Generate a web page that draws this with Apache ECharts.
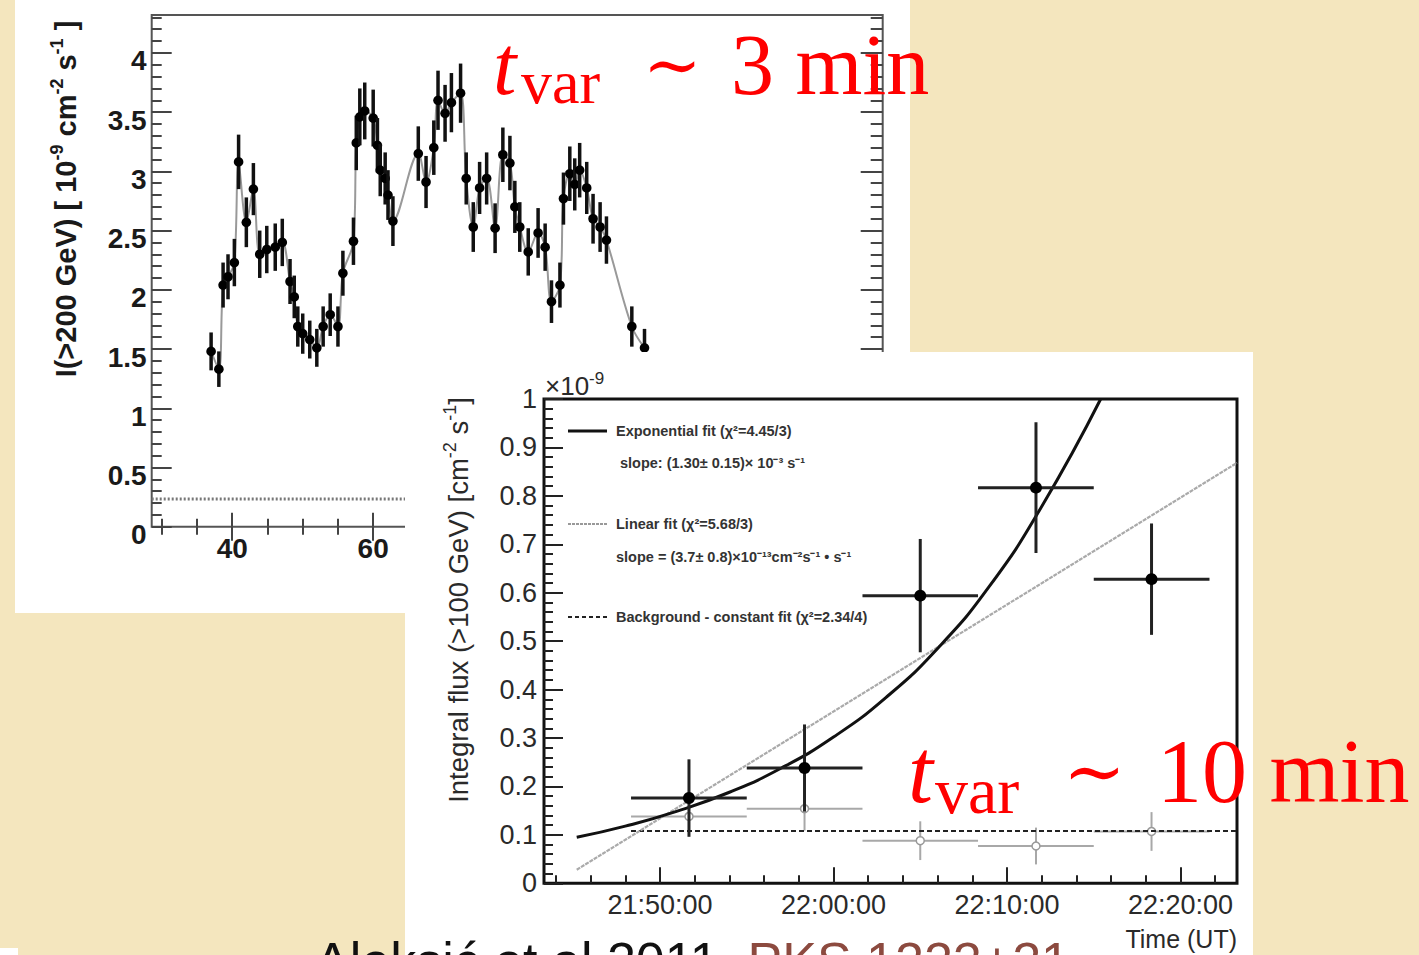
<!DOCTYPE html>
<html>
<head>
<meta charset="utf-8">
<script src="https://cdn.jsdelivr.net/npm/echarts@6/dist/echarts.min.js"></script>
<style>
html,body{margin:0;padding:0;background:#f4e6be;}
#c{width:1419px;height:955px;}
</style>
</head>
<body>
<div id="c"></div>
<script>
// ---------- Upper panel: light curve, I(>200 GeV) [1e-9 cm^-2 s^-1] vs minutes ----------
const hessTime = [37.0,38.1,38.7,39.4,40.3,40.9,42.0,43.0,43.9,44.9,
  46.1,47.1,48.2,48.8,49.3,50.0,51.0,52.0,52.9,53.9,
  55.0,55.7,57.2,57.6,58.1,58.8,60.0,60.6,61.0,61.7,
  62.1,62.8,66.4,67.5,68.6,69.2,70.2,71.1,72.4,73.2,
  74.2,75.1,76.1,77.3,78.4,79.4,80.1,80.8,82.0,83.4,
  84.4,85.3,86.5,87.0,87.9,88.6,89.3,90.3,91.2,92.2,
  93.1,96.7,98.5];
const hessFlux = [1.48,1.33,2.04,2.11,2.23,3.08,2.57,2.85,2.30,2.34,
  2.36,2.40,2.07,1.94,1.69,1.63,1.58,1.51,1.69,1.79,
  1.69,2.14,2.41,3.24,3.46,3.51,3.45,3.22,3.01,2.94,
  2.80,2.58,3.15,2.91,3.20,3.60,3.49,3.58,3.66,2.94,
  2.53,2.86,2.94,2.52,3.14,3.07,2.70,2.53,2.32,2.48,
  2.36,1.90,2.04,2.77,2.98,2.89,3.01,2.86,2.60,2.53,
  2.42,1.69,1.51];
const hessErr = [0.16,0.15,0.19,0.19,0.20,0.23,0.21,0.22,0.20,0.20,
  0.20,0.20,0.19,0.18,0.17,0.17,0.16,0.16,0.17,0.18,
  0.17,0.19,0.20,0.23,0.24,0.24,0.24,0.23,0.22,0.22,
  0.21,0.21,0.23,0.22,0.23,0.25,0.24,0.25,0.25,0.22,
  0.21,0.22,0.22,0.21,0.23,0.23,0.22,0.21,0.20,0.21,
  0.20,0.18,0.19,0.22,0.23,0.22,0.23,0.22,0.21,0.21,
  0.20,0.17,0.16];
const hessBackground = 0.234;
const topXMajor = [40, 60, 80, 100, 120];
const topXLabelValues = [40, 60];   // the other labels lie under the lower panel
const topXMinor = [30, 35, 45, 50, 55, 65, 70, 75, 85, 90, 95, 105, 110, 115, 125, 130];
const topYMajor = [0, 0.5, 1, 1.5, 2, 2.5, 3, 3.5, 4];
const topYMinor = [0.1,0.2,0.3,0.4,0.6,0.7,0.8,0.9,1.1,1.2,1.3,1.4,1.6,1.7,1.8,1.9,
  2.1,2.2,2.3,2.4,2.6,2.7,2.8,2.9,3.1,3.2,3.3,3.4,3.6,3.7,3.8,3.9,4.1,4.2,4.3];

// ---------- Lower panel: MAGIC integral flux (>100 GeV) [1e-9 cm^-2 s^-1] vs time (min after 21:00 UT) ----------
const magicCenter = [51.67, 58.33, 65.0, 71.67, 78.33];
const magicStart  = [48.33, 55.0, 61.67, 68.33, 75.0];
const magicEnd    = [55.0, 61.67, 68.33, 75.0, 81.67];
const magicFlux   = [0.176, 0.238, 0.594, 0.817, 0.628];
const magicErr    = [0.080, 0.090, 0.117, 0.135, 0.115];
const bgFlux      = [0.138, 0.154, 0.088, 0.077, 0.107];
const bgErr       = [0.040, 0.045, 0.040, 0.038, 0.040];
const bgConst     = 0.108;
const expFitTime  = [45.2, 48, 51, 54, 57, 60, 63, 66, 69, 72, 75.4];
const expFitFlux  = [0.095, 0.118, 0.149, 0.188, 0.238, 0.302, 0.383, 0.485, 0.614, 0.778, 1.0];
const linFitTime  = [45.2, 83.25];
const linFitFlux  = [0.028, 0.868];
const botXMajor = [50, 60, 70, 80];
const botXLabels = ['21:50:00', '22:00:00', '22:10:00', '22:20:00'];
const botXMinor = [44, 46, 48, 52, 54, 56, 58, 62, 64, 66, 68, 72, 74, 76, 78, 82];
const botYMajor = [0, 0.1, 0.2, 0.3, 0.4, 0.5, 0.6, 0.7, 0.8, 0.9, 1];
const botYMinor = [0.02,0.04,0.06,0.08,0.12,0.14,0.16,0.18,0.22,0.24,0.26,0.28,
  0.32,0.34,0.36,0.38,0.42,0.44,0.46,0.48,0.52,0.54,0.56,0.58,0.62,0.64,0.66,0.68,
  0.72,0.74,0.76,0.78,0.82,0.84,0.86,0.88,0.92,0.94,0.96,0.98];

const SANS = "'Liberation Sans', Arial, Helvetica, sans-serif";
const SERIF = "'Liberation Serif', 'DejaVu Serif', serif";

const hessData = hessTime.map((t, i) => [t, hessFlux[i], hessErr[i]]);
const magicData = magicCenter.map((t, i) => [t, magicFlux[i], magicErr[i], magicStart[i], magicEnd[i]]);
const bgData = magicCenter.map((t, i) => [t, bgFlux[i], bgErr[i], magicStart[i], magicEnd[i]]);

function tickAxis(opt) {
  return Object.assign({
    type: 'value', axisLine: {show: false}, splitLine: {show: false},
    axisLabel: {show: false}
  }, opt);
}

const topXRange = {min: 28.57, max: 132.3};
const topYRange = {min: 0, max: 4.32};
const botXRange = {min: 43.314, max: 83.256};
const botYRange = {min: 0, max: 1};

const topTickStyle = {color: '#444', width: 2};
const botTickStyle = {color: '#222', width: 2};

const option = {
  animation: false,
  backgroundColor: '#f4e6be',
  grid: [
    {left: 151.7, top: 15, width: 731, height: 511.7, show: true, borderColor: '#555', borderWidth: 2, backgroundColor: 'transparent', z: 1},
    {left: 544, top: 399, width: 693, height: 484.3, show: true, borderColor: '#111', borderWidth: 3, backgroundColor: 'transparent', z: 6}
  ],
  xAxis: [
    tickAxis(Object.assign({gridIndex: 0, position: 'bottom', z: 1,
      axisTick: {inside: true, length: 14, lineStyle: topTickStyle, customValues: topXMajor},
      axisLabel: {show: true, customValues: topXLabelValues, margin: 8, fontSize: 28, fontWeight: 'bold', fontFamily: SANS, color: '#1a1a1a'}}, topXRange)),
    tickAxis(Object.assign({gridIndex: 0, position: 'bottom', z: 1,
      axisTick: {inside: true, length: 8, lineStyle: topTickStyle, customValues: topXMinor}}, topXRange)),
    tickAxis(Object.assign({gridIndex: 0, position: 'top', z: 1,
      axisTick: {inside: true, length: 14, lineStyle: topTickStyle, customValues: topXMajor}}, topXRange)),
    tickAxis(Object.assign({gridIndex: 0, position: 'top', z: 1,
      axisTick: {inside: true, length: 8, lineStyle: topTickStyle, customValues: topXMinor}}, topXRange)),
    tickAxis(Object.assign({gridIndex: 1, position: 'bottom', z: 6,
      axisTick: {inside: true, length: 16, lineStyle: botTickStyle, customValues: botXMajor},
      axisLabel: {show: true, customValues: botXMajor, margin: 8, fontSize: 27, fontFamily: SANS, color: '#2a2a2a',
        formatter: v => botXLabels[botXMajor.indexOf(v)]}}, botXRange)),
    tickAxis(Object.assign({gridIndex: 1, position: 'bottom', z: 6,
      axisTick: {inside: true, length: 8, lineStyle: botTickStyle, customValues: botXMinor}}, botXRange))
  ],
  yAxis: [
    tickAxis(Object.assign({gridIndex: 0, position: 'left', z: 1,
      axisTick: {inside: true, length: 20, lineStyle: topTickStyle, customValues: topYMajor},
      axisLabel: {show: true, customValues: topYMajor, margin: 5, verticalAlign: 'top', lineHeight: 16, fontSize: 28, fontWeight: 'bold', fontFamily: SANS, color: '#1a1a1a'}}, topYRange)),
    tickAxis(Object.assign({gridIndex: 0, position: 'left', z: 1,
      axisTick: {inside: true, length: 10, lineStyle: topTickStyle, customValues: topYMinor}}, topYRange)),
    tickAxis(Object.assign({gridIndex: 0, position: 'right', z: 1,
      axisTick: {inside: true, length: 22, lineStyle: topTickStyle, customValues: topYMajor}}, topYRange)),
    tickAxis(Object.assign({gridIndex: 0, position: 'right', z: 1,
      axisTick: {inside: true, length: 12, lineStyle: topTickStyle, customValues: topYMinor}}, topYRange)),
    tickAxis(Object.assign({gridIndex: 1, position: 'left', z: 6,
      axisTick: {inside: true, length: 19, lineStyle: botTickStyle, customValues: botYMajor},
      axisLabel: {show: true, customValues: botYMajor, margin: 7, fontSize: 27, fontFamily: SANS, color: '#2a2a2a'}}, botYRange)),
    tickAxis(Object.assign({gridIndex: 1, position: 'left', z: 6,
      axisTick: {inside: true, length: 9, lineStyle: botTickStyle, customValues: botYMinor}}, botYRange))
  ],
  series: [
    // upper panel
    {type: 'line', xAxisIndex: 0, yAxisIndex: 0, z: 2, data: hessData.map(d => [d[0], d[1]]),
      smooth: 0.35, showSymbol: false, lineStyle: {color: '#999', width: 2}, silent: true},
    {type: 'line', xAxisIndex: 0, yAxisIndex: 0, z: 2, data: [[topXRange.min, hessBackground], [topXRange.max, hessBackground]],
      showSymbol: false, lineStyle: {color: '#777', width: 3, type: [2, 2]}, silent: true},
    {type: 'custom', xAxisIndex: 0, yAxisIndex: 0, z: 3, data: hessData,
      renderItem: function (params, api) {
        const x = api.value(0), y = api.value(1), e = api.value(2);
        const c = api.coord([x, y]), hi = api.coord([x, y + e]), lo = api.coord([x, y - e]);
        return {type: 'group', children: [
          {type: 'line', shape: {x1: c[0], y1: hi[1], x2: c[0], y2: lo[1]}, style: {stroke: '#111', lineWidth: 3.5}},
          {type: 'circle', shape: {cx: c[0], cy: c[1], r: 4.8}, style: {fill: '#000'}}
        ]};
      }},
    // lower panel
    {type: 'line', xAxisIndex: 4, yAxisIndex: 4, z: 7, data: [[magicStart[0], bgConst], [botXRange.max, bgConst]],
      showSymbol: false, lineStyle: {color: '#222', width: 2, type: [5, 3]}, silent: true},
    {type: 'custom', xAxisIndex: 4, yAxisIndex: 4, z: 7, data: bgData,
      renderItem: function (params, api) {
        const x = api.value(0), y = api.value(1), e = api.value(2), x0 = api.value(3), x1 = api.value(4);
        const c = api.coord([x, y]), hi = api.coord([x, y + e]), lo = api.coord([x, y - e]);
        const l = api.coord([x0, y]), r = api.coord([x1, y]);
        return {type: 'group', children: [
          {type: 'line', shape: {x1: c[0], y1: hi[1], x2: c[0], y2: lo[1]}, style: {stroke: '#a8a8a8', lineWidth: 2}},
          {type: 'line', shape: {x1: l[0], y1: c[1], x2: r[0], y2: c[1]}, style: {stroke: '#a8a8a8', lineWidth: 2}},
          {type: 'circle', shape: {cx: c[0], cy: c[1], r: 4}, style: {fill: '#fff', stroke: '#999', lineWidth: 1.5}}
        ]};
      }},
    {type: 'line', xAxisIndex: 4, yAxisIndex: 4, z: 8, data: linFitTime.map((t, i) => [t, linFitFlux[i]]),
      showSymbol: false, lineStyle: {color: '#aaa', width: 2.2, type: [4, 1]}, silent: true},
    {type: 'line', xAxisIndex: 4, yAxisIndex: 4, z: 8, data: expFitTime.map((t, i) => [t, expFitFlux[i]]),
      smooth: true, showSymbol: false, lineStyle: {color: '#111', width: 3}, silent: true},
    {type: 'custom', xAxisIndex: 4, yAxisIndex: 4, z: 9, data: magicData,
      renderItem: function (params, api) {
        const x = api.value(0), y = api.value(1), e = api.value(2), x0 = api.value(3), x1 = api.value(4);
        const c = api.coord([x, y]), hi = api.coord([x, y + e]), lo = api.coord([x, y - e]);
        const l = api.coord([x0, y]), r = api.coord([x1, y]);
        return {type: 'group', children: [
          {type: 'line', shape: {x1: c[0], y1: hi[1], x2: c[0], y2: lo[1]}, style: {stroke: '#222', lineWidth: 3}},
          {type: 'line', shape: {x1: l[0], y1: c[1], x2: r[0], y2: c[1]}, style: {stroke: '#222', lineWidth: 3}},
          {type: 'circle', shape: {cx: c[0], cy: c[1], r: 6}, style: {fill: '#000'}}
        ]};
      }}
  ],
  graphic: [
    {type: 'rect', z: 0, shape: {x: 15, y: 0, width: 895, height: 613}, style: {fill: '#ffffff'}},
    {type: 'rect', z: 5, shape: {x: 405, y: 352, width: 848, height: 603}, style: {fill: '#ffffff'}},
    {type: 'rect', z: 5, shape: {x: 0, y: 948, width: 18, height: 7}, style: {fill: '#ffffff'}},
    // upper y title
    {type: 'text', z: 4, x: 66, y: 199, rotation: Math.PI / 2,
      style: {text: 'I(>200 GeV) [ 10{s|-9} cm{s|-2} s{s|-1} ]', align: 'center', verticalAlign: 'middle',
        fontFamily: SANS, fontWeight: 'bold', fontSize: 29, fill: '#1a1a1a', lineHeight: 36,
        rich: {s: {fontSize: 18, fontWeight: 'bold', fontFamily: SANS, lineHeight: 19, verticalAlign: 'top', fill: '#1a1a1a'}}}},
    // lower y title
    {type: 'text', z: 10, x: 458, y: 600, rotation: Math.PI / 2,
      style: {text: 'Integral flux (>100 GeV) [cm{s|-2} s{s|-1}]', align: 'center', verticalAlign: 'middle',
        fontFamily: SANS, fontSize: 27.5, fill: '#2a2a2a', lineHeight: 34,
        rich: {s: {fontSize: 18, fontFamily: SANS, lineHeight: 18, verticalAlign: 'top', fill: '#2a2a2a'}}}},
    // x10^-9
    {type: 'text', z: 10, x: 545, y: 386,
      style: {text: '×10{s|-9}', align: 'left', verticalAlign: 'middle', fontFamily: SANS, fontSize: 26, fill: '#2a2a2a', lineHeight: 32,
        rich: {s: {fontSize: 17, fontFamily: SANS, lineHeight: 17, verticalAlign: 'top', fill: '#2a2a2a'}}}},
    // Time (UT)
    {type: 'text', z: 10, x: 1237, y: 939, style: {text: 'Time (UT)', align: 'right', verticalAlign: 'middle', fontFamily: SANS, fontSize: 25, fill: '#2a2a2a'}},
    // legend
    {type: 'line', z: 10, shape: {x1: 568, y1: 431, x2: 607, y2: 431}, style: {stroke: '#111', lineWidth: 3}},
    {type: 'text', z: 10, x: 616, y: 431, style: {text: 'Exponential fit (χ²=4.45/3)', verticalAlign: 'middle', fontFamily: SANS, fontWeight: 'bold', fontSize: 14.5, fill: '#333'}},
    {type: 'text', z: 10, x: 620, y: 463, style: {text: 'slope: (1.30± 0.15)× 10⁻³ s⁻¹', verticalAlign: 'middle', fontFamily: SANS, fontWeight: 'bold', fontSize: 14.5, fill: '#333'}},
    {type: 'line', z: 10, shape: {x1: 568, y1: 524, x2: 607, y2: 524}, style: {stroke: '#999', lineWidth: 2, lineDash: [3, 1]}},
    {type: 'text', z: 10, x: 616, y: 524, style: {text: 'Linear fit (χ²=5.68/3)', verticalAlign: 'middle', fontFamily: SANS, fontWeight: 'bold', fontSize: 14.5, fill: '#333'}},
    {type: 'text', z: 10, x: 616, y: 557, style: {text: 'slope = (3.7± 0.8)×10⁻¹³cm⁻²s⁻¹ • s⁻¹', verticalAlign: 'middle', fontFamily: SANS, fontWeight: 'bold', fontSize: 14.5, fill: '#333'}},
    {type: 'line', z: 10, shape: {x1: 568, y1: 617, x2: 607, y2: 617}, style: {stroke: '#222', lineWidth: 2, lineDash: [4, 3]}},
    {type: 'text', z: 10, x: 616, y: 617, style: {text: 'Background - constant fit (χ²=2.34/4)', verticalAlign: 'middle', fontFamily: SANS, fontWeight: 'bold', fontSize: 14.5, fill: '#333'}},
    // red annotation: upper
    {type: 'text', z: 12, x: 493, y: 65, style: {text: 't', verticalAlign: 'middle', fontFamily: SERIF, fontStyle: 'italic', fontSize: 84, fill: '#ff0000'}},
    {type: 'text', z: 12, x: 521, y: 82, style: {text: 'var', verticalAlign: 'middle', fontFamily: SERIF, fontSize: 62, fill: '#ff0000'}},
    {type: 'text', z: 12, x: 643, y: 65, style: {text: '∼', verticalAlign: 'middle', fontFamily: SERIF, fontSize: 70, fill: '#ff0000'}},
    {type: 'text', z: 12, x: 731, y: 65, style: {text: '3 min', verticalAlign: 'middle', fontFamily: SERIF, fontSize: 86, fill: '#ff0000'}},
    // red annotation: lower
    {type: 'text', z: 12, x: 908, y: 771, style: {text: 't', verticalAlign: 'middle', fontFamily: SERIF, fontStyle: 'italic', fontSize: 90, fill: '#ff0000'}},
    {type: 'text', z: 12, x: 935, y: 790, style: {text: 'var', verticalAlign: 'middle', fontFamily: SERIF, fontSize: 66, fill: '#ff0000'}},
    {type: 'text', z: 12, x: 1063, y: 771, style: {text: '∼', verticalAlign: 'middle', fontFamily: SERIF, fontSize: 75, fill: '#ff0000'}},
    {type: 'text', z: 12, x: 1157, y: 771, style: {text: '10 min', verticalAlign: 'middle', fontFamily: SERIF, fontSize: 90, fill: '#ff0000'}},
    // citation (cut by page bottom, as in the reference)
    {type: 'text', z: 12, x: 315, y: 961, style: {text: 'Aleksić et al 2011, {r|PKS 1222+21}', verticalAlign: 'middle', fontFamily: SANS, fontSize: 52, fill: '#111',
      rich: {r: {fontFamily: SANS, fontSize: 52, fill: '#8c4a3f'}}}}
  ]
};

const chart = echarts.init(document.getElementById('c'), null, {renderer: 'svg', width: 1419, height: 955});
chart.setOption(option);
</script>
</body>
</html>
